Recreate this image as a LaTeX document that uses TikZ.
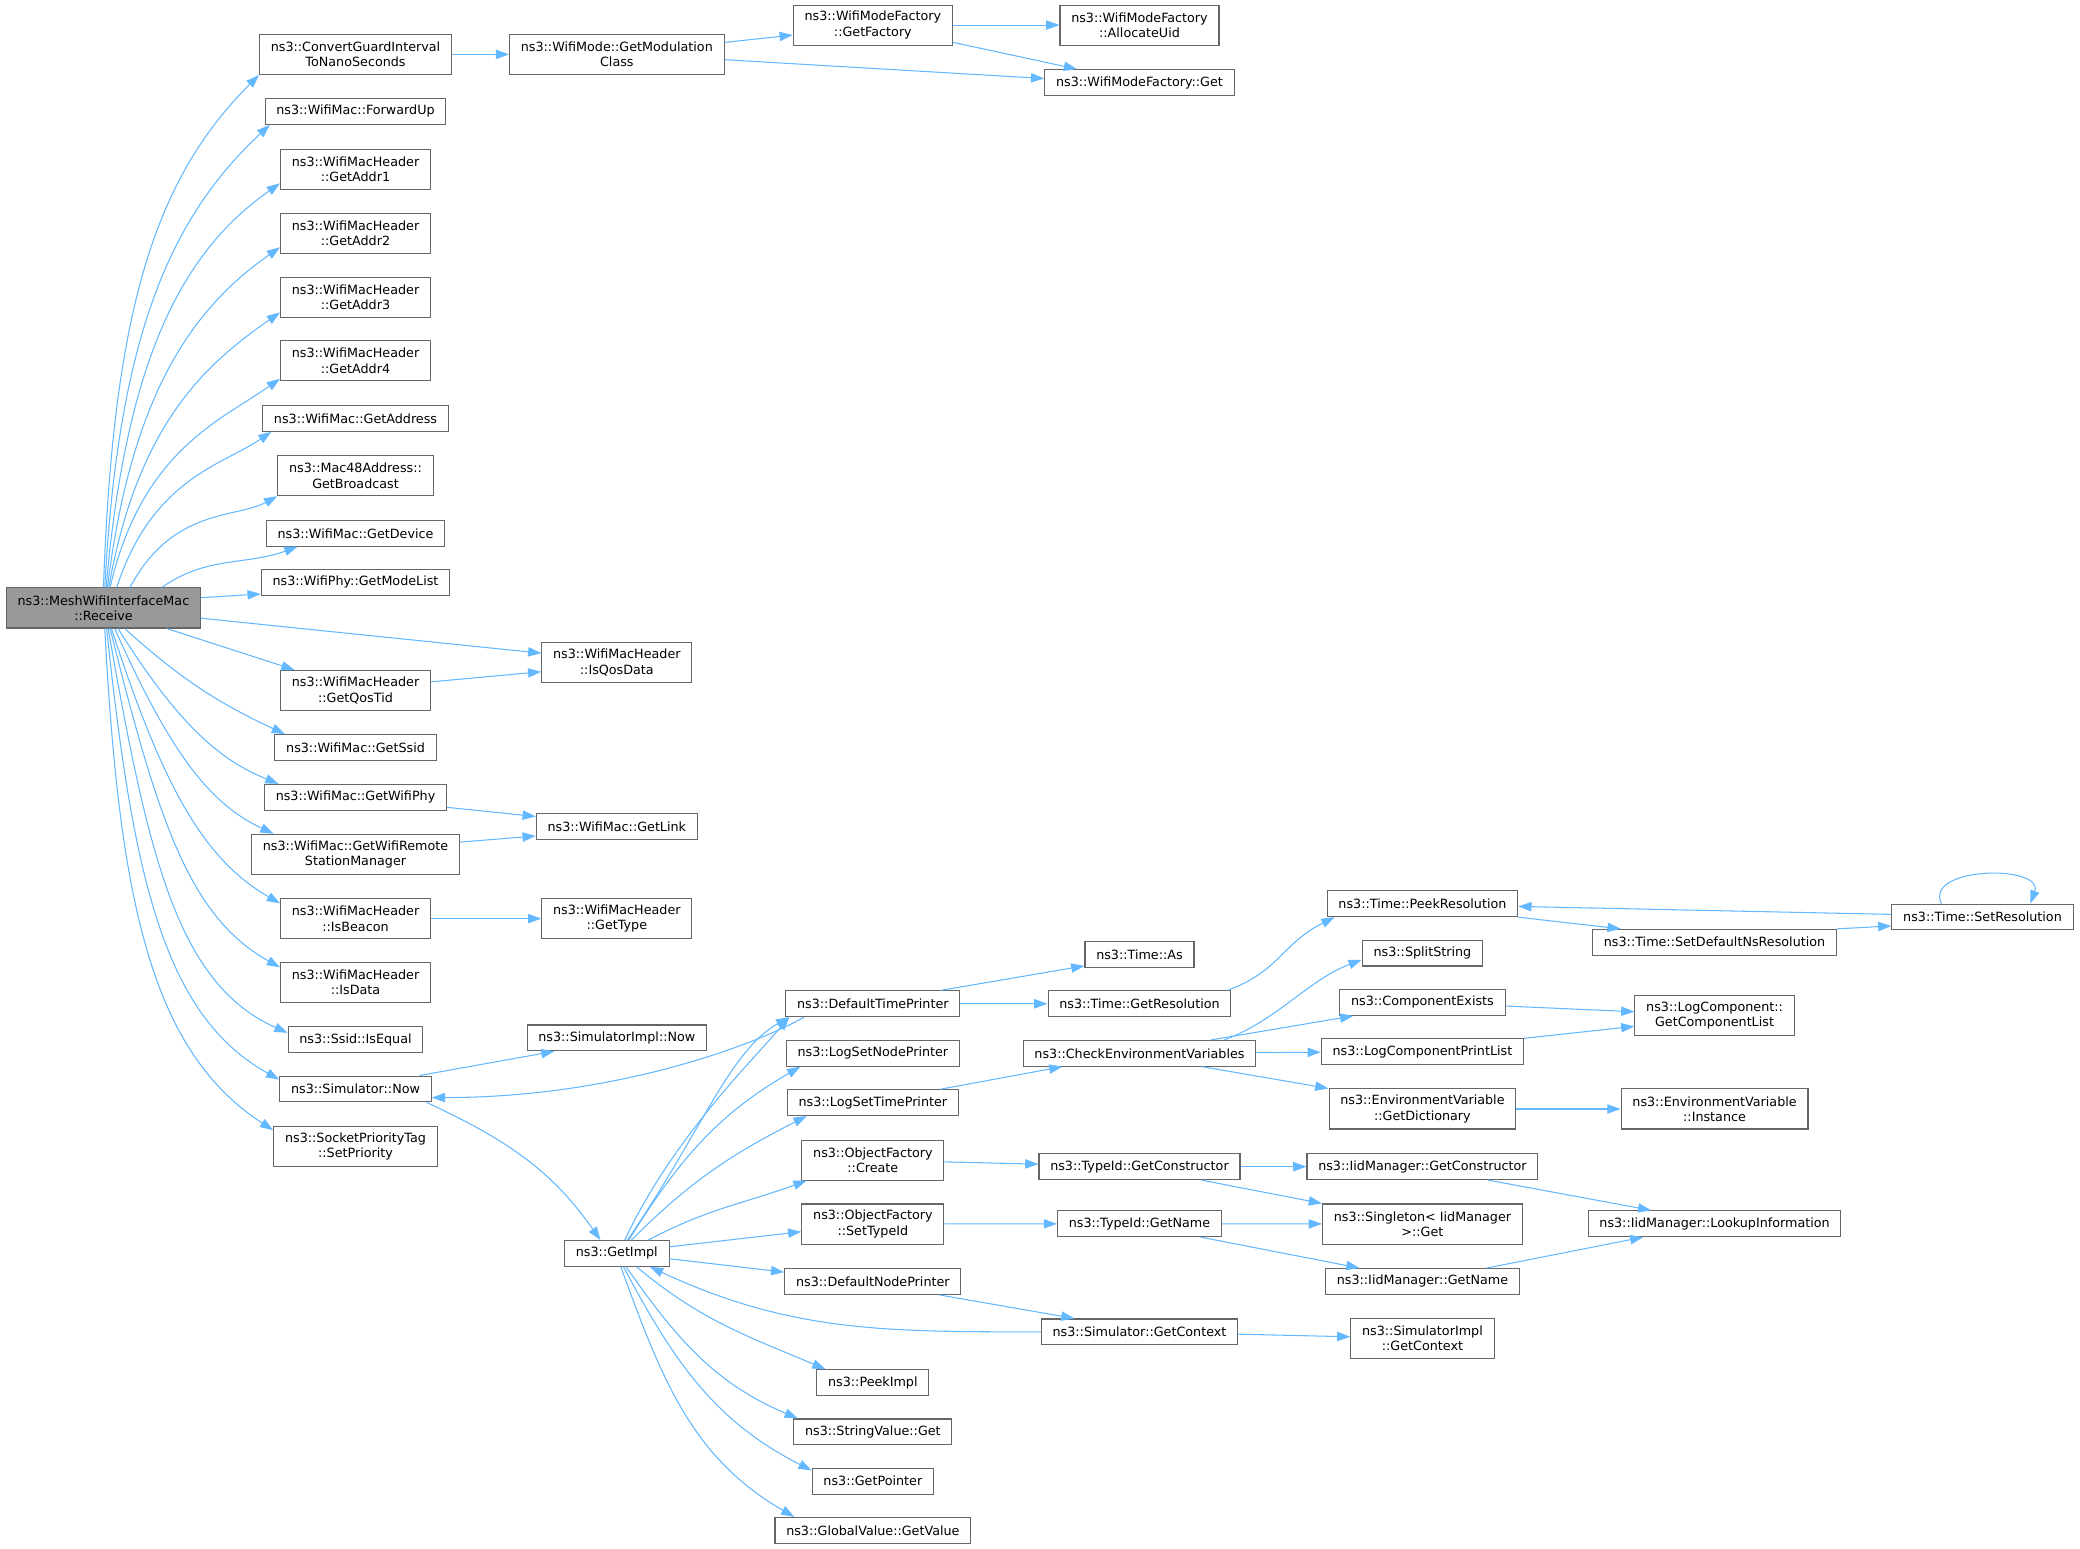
\documentclass[tikz,border=0pt]{standalone}
\usepackage{fontspec}
\setmainfont{DejaVu Sans}
\usepackage{tikz}
\usetikzlibrary{arrows.meta,calc}
\definecolor{boxgray}{HTML}{666666}
\definecolor{rootgray}{HTML}{999999}
\definecolor{callblue}{HTML}{63B8FF}
\tikzset{
  fnbox/.style={draw=boxgray, fill=white, line width=0.8pt, inner xsep=8.5pt, inner ysep=3pt,
    minimum height=19.4pt, align=center, font=\fontsize{9.6}{11.5}\selectfont},
  two/.style={minimum height=30.2pt},
  rootbox/.style={fnbox, fill=rootgray},
  callarrow/.style={->, draw=callblue, line width=0.8pt},
  fan/.style={callarrow, out looseness=1.33, in looseness=0.7}
}
\begin{document}
\begin{tikzpicture}[x=1pt, y=1pt, >={Triangle[length=10pt,width=7pt]}]
    \useasboundingbox (0,0) rectangle (1568,-1167);

    \node[rootbox,two] (recv) at (78,-458.3) {ns3::MeshWifiInterfaceMac\\::Receive};

    \node[fnbox,two] (conv) at (268,-41) {ns3::ConvertGuardInterval\\ToNanoSeconds};
    \node[fnbox] (fwd) at (268,-84) {ns3::WifiMac::ForwardUp};
    \node[fnbox,two] (addr1) at (268,-127.7) {ns3::WifiMacHeader\\::GetAddr1};
    \node[fnbox,two] (addr2) at (268,-175.9) {ns3::WifiMacHeader\\::GetAddr2};
    \node[fnbox,two] (addr3) at (268,-224) {ns3::WifiMacHeader\\::GetAddr3};
    \node[fnbox,two] (addr4) at (268,-272) {ns3::WifiMacHeader\\::GetAddr4};
    \node[fnbox] (getaddr) at (268,-315.4) {ns3::WifiMac::GetAddress};
    \node[fnbox,two] (bcast) at (268,-358.6) {ns3::Mac48Address::\\GetBroadcast};
    \node[fnbox] (device) at (268,-402) {ns3::WifiMac::GetDevice};
    \node[fnbox] (modelist) at (268,-439) {ns3::WifiPhy::GetModeList};
    \node[fnbox,two] (qostid) at (268,-520.5) {ns3::WifiMacHeader\\::GetQosTid};
    \node[fnbox] (ssid) at (268,-563.5) {ns3::WifiMac::GetSsid};
    \node[fnbox] (wifiphy) at (268,-601) {ns3::WifiMac::GetWifiPhy};
    \node[fnbox,two] (remote) at (268,-644) {ns3::WifiMac::GetWifiRemote\\StationManager};
    \node[fnbox,two] (isbeacon) at (268,-692.5) {ns3::WifiMacHeader\\::IsBeacon};
    \node[fnbox,two] (isdata) at (268,-740.7) {ns3::WifiMacHeader\\::IsData};
    \node[fnbox] (isequal) at (268,-783.7) {ns3::Ssid::IsEqual};
    \node[fnbox] (simnow) at (268,-820.9) {ns3::Simulator::Now};
    \node[fnbox,two] (socket) at (268,-864) {ns3::SocketPriorityTag\\::SetPriority};

    \node[fnbox,two] (modclass) at (465,-41) {ns3::WifiMode::GetModulation\\Class};
    \node[fnbox,two] (isqos) at (465,-499.4) {ns3::WifiMacHeader\\::IsQosData};
    \node[fnbox] (getlink) at (465,-623.2) {ns3::WifiMac::GetLink};
    \node[fnbox,two] (gettype) at (465,-692.5) {ns3::WifiMacHeader\\::GetType};
    \node[fnbox] (simimplnow) at (465,-782.4) {ns3::SimulatorImpl::Now};
    \node[fnbox] (getimpl) at (465,-944.9) {ns3::GetImpl};

    \node[fnbox,two] (getfactory) at (658,-18.9) {ns3::WifiModeFactory\\::GetFactory};
    \node[fnbox] (dtp) at (658,-756.7) {ns3::DefaultTimePrinter};
    \node[fnbox] (lognode) at (658,-794) {ns3::LogSetNodePrinter};
    \node[fnbox] (logtime) at (658,-831.2) {ns3::LogSetTimePrinter};
    \node[fnbox,two] (create) at (658,-874.5) {ns3::ObjectFactory\\::Create};
    \node[fnbox,two] (settype) at (658,-922.7) {ns3::ObjectFactory\\::SetTypeId};
    \node[fnbox] (dnp) at (658,-966) {ns3::DefaultNodePrinter};
    \node[fnbox] (peekimpl) at (658,-1042.3) {ns3::PeekImpl};
    \node[fnbox] (strval) at (658,-1079.4) {ns3::StringValue::Get};
    \node[fnbox] (getptr) at (658,-1116.6) {ns3::GetPointer};
    \node[fnbox] (globval) at (658,-1153.6) {ns3::GlobalValue::GetValue};

    \node[fnbox,two] (allocuid) at (859,-18.9) {ns3::WifiModeFactory\\::AllocateUid};
    \node[fnbox] (wmfget) at (859,-62.2) {ns3::WifiModeFactory::Get};
    \node[fnbox] (timeas) at (859,-719.5) {ns3::Time::As};
    \node[fnbox] (getres) at (859,-756.7) {ns3::Time::GetResolution};
    \node[fnbox] (checkenv) at (859,-794) {ns3::CheckEnvironmentVariables};
    \node[fnbox] (tgetctor) at (859,-879.5) {ns3::TypeId::GetConstructor};
    \node[fnbox] (tgetname) at (859,-922.5) {ns3::TypeId::GetName};
    \node[fnbox] (simctx) at (859,-1004) {ns3::Simulator::GetContext};

    \node[fnbox] (peekres) at (1072.3,-681.3) {ns3::Time::PeekResolution};
    \node[fnbox] (split) at (1072.3,-718.5) {ns3::SplitString};
    \node[fnbox] (compex) at (1072.3,-755.7) {ns3::ComponentExists};
    \node[fnbox] (logprint) at (1072.3,-792.8) {ns3::LogComponentPrintList};
    \node[fnbox,two] (getdict) at (1072.3,-836) {ns3::EnvironmentVariable\\::GetDictionary};
    \node[fnbox] (iidctor) at (1072.3,-879.5) {ns3::IidManager::GetConstructor};
    \node[fnbox,two] (singleton) at (1072.3,-922.7) {ns3::Singleton< IidManager\\>::Get};
    \node[fnbox] (iidname) at (1072.3,-966) {ns3::IidManager::GetName};
    \node[fnbox,two] (simimplctx) at (1072.3,-1009) {ns3::SimulatorImpl\\::GetContext};

    \node[fnbox] (setdefns) at (1292.5,-710.3) {ns3::Time::SetDefaultNsResolution};
    \node[fnbox,two] (getcomplist) at (1292.5,-765.7) {ns3::LogComponent::\\GetComponentList};
    \node[fnbox,two] (envinst) at (1292.5,-836) {ns3::EnvironmentVariable\\::Instance};
    \node[fnbox] (lookup) at (1292.5,-922.5) {ns3::IidManager::LookupInformation};

    \node[fnbox] (setres) at (1494.5,-691.3) {ns3::Time::SetResolution};

    % calls out of Receive
    \draw[fan] ([xshift=0pt]recv.north) to[out=88,in=225] (conv.south west);
    \draw[fan] ([xshift=1pt]recv.north) to[out=87,in=223] ([xshift=4pt]fwd.south west);
    \draw[fan] ([xshift=2pt]recv.north) to[out=85,in=215] ([yshift=5pt]addr1.south west);
    \draw[fan] ([xshift=3pt]recv.north) to[out=83,in=215] ([yshift=5pt]addr2.south west);
    \draw[fan] ([xshift=4pt]recv.north) to[out=80,in=215] ([yshift=4pt]addr3.south west);
    \draw[fan] ([xshift=5pt]recv.north) to[out=77,in=215] ([yshift=2pt]addr4.south west);
    \draw[fan] ([xshift=10pt]recv.north) to[out=72,in=214] ([xshift=7pt]getaddr.south west);
    \draw[fan] ([xshift=20pt]recv.north) to[out=62,in=208] (bcast.south west);
    \draw[callarrow] ([xshift=44pt]recv.north) to[out=35,in=200] ([xshift=24pt]device.south west);
    \draw[callarrow] (recv.6) -- (modelist.187);
    \draw[callarrow] (recv.-6) -- (isqos.173);
    \draw[callarrow] (recv.-18) -- ([xshift=11pt]qostid.north west);
    \draw[callarrow] ([xshift=16pt]recv.south) to[out=-42,in=155] ([xshift=8pt]ssid.north west);
    \draw[fan] ([xshift=11pt]recv.south) to[out=-58,in=158] ([xshift=11pt]wifiphy.north west);
    \draw[fan] ([xshift=8.5pt]recv.south) to[out=-66,in=155] ([xshift=17pt]remote.north west);
    \draw[fan] ([xshift=6pt]recv.south) to[out=-72,in=150] ([yshift=-4pt]isbeacon.north west);
    \draw[fan] ([xshift=5pt]recv.south) to[out=-76,in=151] ([yshift=-4pt]isdata.north west);
    \draw[fan] ([xshift=3.5pt]recv.south) to[out=-80,in=156] ([yshift=-5pt]isequal.north west);
    \draw[fan] ([xshift=2.4pt]recv.south) to[out=-84,in=151] ([yshift=-3pt]simnow.north west);
    \draw[fan] ([xshift=1pt]recv.south) to[out=-87,in=147] ([yshift=-3.5pt]socket.north west);

    % top group
    \draw[callarrow] (conv) -- (modclass);
    \draw[callarrow] ([yshift=9pt]modclass.east) -- ([yshift=-7.5pt]getfactory.west);
    \draw[callarrow] ([yshift=-4pt]modclass.east) -- ([yshift=3pt]wmfget.west);
    \draw[callarrow] (getfactory) -- (allocuid);
    \draw[callarrow] ([yshift=-13pt]getfactory.east) -- ([xshift=24.7pt]wmfget.north west);

    % middle group
    \draw[callarrow] ([yshift=6.5pt]qostid.east) -- ([yshift=-7pt]isqos.west);
    \draw[callarrow] ([yshift=-7.6pt]wifiphy.east) -- ([yshift=7.7pt]getlink.west);
    \draw[callarrow] ([yshift=9.2pt]remote.east) -- ([yshift=-7pt]getlink.west);
    \draw[callarrow] (isbeacon) -- (gettype);
    \draw[callarrow] ([xshift=-9.4pt]simnow.north east) -- ([xshift=21pt]simimplnow.south west);
    \draw[callarrow] ([xshift=-4pt]simnow.south east) to[out=-25,in=125] ([xshift=27.4pt]getimpl.north west);
    \draw[callarrow] (dtp.191) .. controls +(-35,-20) and +(140,0) .. ([yshift=-6.5pt]simnow.east);

    % GetImpl
    \draw[callarrow] ([xshift=6pt]getimpl.north) .. controls +(35,75) and +(-30,-35) .. ([xshift=3pt]dtp.south west);
    \draw[callarrow] ([xshift=8pt]getimpl.north) .. controls +(55,80) and +(-45,-25) .. ([xshift=3pt]dtp.south west);
    \draw[callarrow] ([xshift=9pt]getimpl.north) to[out=58,in=210] ([xshift=11pt]lognode.south west);
    \draw[callarrow] ([xshift=11pt]getimpl.north) to[out=45,in=207] ([xshift=15pt]logtime.south west);
    \draw[callarrow] ([xshift=-16pt]getimpl.north east) to[out=28,in=200] ([xshift=4pt]create.south west);
    \draw[callarrow] ([yshift=5pt]getimpl.east) -- ([yshift=-5.8pt]settype.west);
    \draw[callarrow] ([yshift=-4pt]getimpl.east) -- ([yshift=7pt]dnp.west);
    \draw[callarrow] (simctx.west) to[out=180,in=-25] ([xshift=25pt]getimpl.south);
    \draw[callarrow] ([xshift=15pt]getimpl.south) to[out=-40,in=157] ([xshift=7pt]peekimpl.north west);
    \draw[callarrow] ([xshift=7pt]getimpl.south) to[out=-55,in=157] ([xshift=3.5pt]strval.north west);
    \draw[callarrow] ([xshift=5pt]getimpl.south) to[out=-62,in=153] ([yshift=-2pt]getptr.north west);
    \draw[callarrow] ([xshift=3pt]getimpl.south) to[out=-70,in=150] ([xshift=15pt]globval.north west);

    % time printer and resolution
    \draw[callarrow] ([xshift=-15pt]dtp.north east) -- ([yshift=1.5pt]timeas.south west);
    \draw[callarrow] (dtp) -- (getres);
    \draw[callarrow] ([xshift=-3pt]getres.north east) .. controls +(40,15) and +(-40,-20) .. ([xshift=6pt]peekres.south west);
    \draw[callarrow] (peekres.south east) -- ([xshift=21.6pt]setdefns.north west);
    \draw[callarrow] (setdefns.north east) -- ([yshift=-6.7pt]setres.west);
    \draw[callarrow] ([yshift=2pt]setres.west) -- ([yshift=-2pt]peekres.east);
    \draw[callarrow] ([xshift=-31pt]setres.north) to[out=115,in=70,looseness=1.2] ([xshift=36pt]setres.north);

    % environment variables
    \draw[callarrow] ([xshift=-14pt]logtime.north east) -- ([xshift=30pt]checkenv.south west);
    \draw[callarrow] ([xshift=-24pt]checkenv.north east) .. controls +(40,15) and +(-40,-15) .. ([yshift=-5pt]split.west);
    \draw[callarrow] ([xshift=-34pt]checkenv.north east) -- ([xshift=10.6pt]compex.south west);
    \draw[callarrow] (checkenv) -- (logprint);
    \draw[callarrow] ([xshift=-41pt]checkenv.south east) -- (getdict.north west);
    \draw[callarrow] ([yshift=-2.7pt]compex.east) -- ([yshift=3pt]getcomplist.west);
    \draw[callarrow] (logprint.north east) -- ([yshift=-8pt]getcomplist.west);
    \draw[callarrow] (getdict) -- (envinst);

    % type ids
    \draw[callarrow] (create) -- (tgetctor);
    \draw[callarrow] (tgetctor) -- (iidctor);
    \draw[callarrow] ([xshift=-29.5pt]tgetctor.south east) -- (singleton.north west);
    \draw[callarrow] ([xshift=-38pt]iidctor.south east) -- ([xshift=48pt]lookup.north west);
    \draw[callarrow] (settype) -- (tgetname);
    \draw[callarrow] (tgetname) -- (singleton);
    \draw[callarrow] ([xshift=-16pt]tgetname.south east) -- ([xshift=26pt]iidname.north west);
    \draw[callarrow] ([xshift=-25pt]iidname.north east) -- ([xshift=42pt]lookup.south west);

    % context
    \draw[callarrow] ([xshift=-17pt]dnp.south east) -- ([xshift=25.4pt]simctx.north west);
    \draw[callarrow] (simctx) -- (simimplctx);
\end{tikzpicture}
\end{document}
